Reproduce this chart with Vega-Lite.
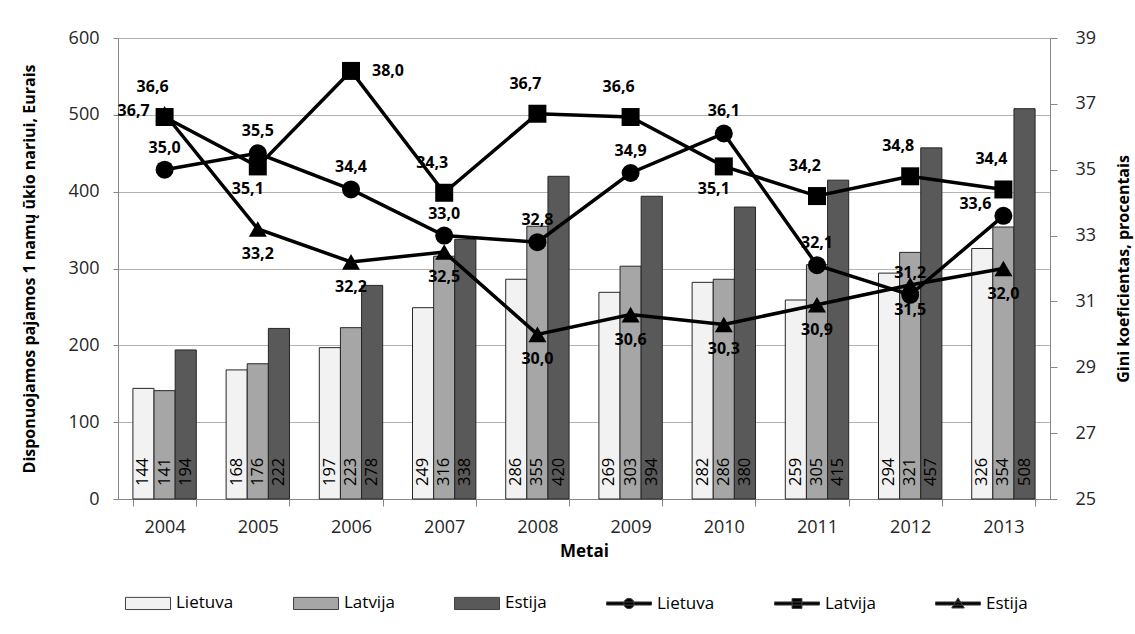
{
  "$schema": "https://vega.github.io/schema/vega-lite/v6.json",
  "width": 932,
  "height": 461,
  "autosize": {"type": "none"},
  "padding": {"left": 118, "top": 38, "right": 85, "bottom": 135},
  "background": "white",
  "config": {
    "font": "Open Sans",
    "view": {"stroke": null},
    "locale": {"number": {"decimal": ",", "thousands": " ", "grouping": [3], "currency": ["", " €"]}},
    "axis": {
      "labelFont": "Open Sans",
      "labelFontSize": 18,
      "labelColor": "#262626",
      "titleFont": "Open Sans",
      "titleFontSize": 16,
      "titleFontWeight": "bold",
      "titleColor": "#000000",
      "domainColor": "#868686",
      "tickColor": "#868686"
    }
  },
  "data": {
    "values": [
      {"Metai": "2004", "Salis": "Lietuva", "pajamos": 144, "gini": 35.0},
      {"Metai": "2004", "Salis": "Latvija", "pajamos": 141, "gini": 36.6},
      {"Metai": "2004", "Salis": "Estija", "pajamos": 194, "gini": 36.7},
      {"Metai": "2005", "Salis": "Lietuva", "pajamos": 168, "gini": 35.5},
      {"Metai": "2005", "Salis": "Latvija", "pajamos": 176, "gini": 35.1},
      {"Metai": "2005", "Salis": "Estija", "pajamos": 222, "gini": 33.2},
      {"Metai": "2006", "Salis": "Lietuva", "pajamos": 197, "gini": 34.4},
      {"Metai": "2006", "Salis": "Latvija", "pajamos": 223, "gini": 38.0},
      {"Metai": "2006", "Salis": "Estija", "pajamos": 278, "gini": 32.2},
      {"Metai": "2007", "Salis": "Lietuva", "pajamos": 249, "gini": 33.0},
      {"Metai": "2007", "Salis": "Latvija", "pajamos": 316, "gini": 34.3},
      {"Metai": "2007", "Salis": "Estija", "pajamos": 338, "gini": 32.5},
      {"Metai": "2008", "Salis": "Lietuva", "pajamos": 286, "gini": 32.8},
      {"Metai": "2008", "Salis": "Latvija", "pajamos": 355, "gini": 36.7},
      {"Metai": "2008", "Salis": "Estija", "pajamos": 420, "gini": 30.0},
      {"Metai": "2009", "Salis": "Lietuva", "pajamos": 269, "gini": 34.9},
      {"Metai": "2009", "Salis": "Latvija", "pajamos": 303, "gini": 36.6},
      {"Metai": "2009", "Salis": "Estija", "pajamos": 394, "gini": 30.6},
      {"Metai": "2010", "Salis": "Lietuva", "pajamos": 282, "gini": 36.1},
      {"Metai": "2010", "Salis": "Latvija", "pajamos": 286, "gini": 35.1},
      {"Metai": "2010", "Salis": "Estija", "pajamos": 380, "gini": 30.3},
      {"Metai": "2011", "Salis": "Lietuva", "pajamos": 259, "gini": 32.1},
      {"Metai": "2011", "Salis": "Latvija", "pajamos": 305, "gini": 34.2},
      {"Metai": "2011", "Salis": "Estija", "pajamos": 415, "gini": 30.9},
      {"Metai": "2012", "Salis": "Lietuva", "pajamos": 294, "gini": 31.2},
      {"Metai": "2012", "Salis": "Latvija", "pajamos": 321, "gini": 34.8},
      {"Metai": "2012", "Salis": "Estija", "pajamos": 457, "gini": 31.5},
      {"Metai": "2013", "Salis": "Lietuva", "pajamos": 326, "gini": 33.6},
      {"Metai": "2013", "Salis": "Latvija", "pajamos": 354, "gini": 34.4},
      {"Metai": "2013", "Salis": "Estija", "pajamos": 508, "gini": 32.0}
    ]
  },
  "layer": [
    {
      "encoding": {
        "x": {
          "field": "Metai",
          "type": "ordinal",
          "title": "Metai",
          "scale": {"paddingInner": 0.32, "paddingOuter": 0.16},
          "axis": {"labelAngle": 0, "tickBand": "extent", "tickSize": 7, "labelPadding": 12, "titlePadding": 7, "titleFontSize": 17}
        },
        "xOffset": {
          "field": "Salis",
          "type": "nominal",
          "sort": ["Lietuva", "Latvija", "Estija"],
          "scale": {"paddingInner": 0, "paddingOuter": 0}
        }
      },
      "layer": [
        {
          "mark": {"type": "bar", "stroke": "#262626", "strokeWidth": 1},
          "encoding": {
            "y": {
              "field": "pajamos",
              "type": "quantitative",
              "scale": {"domain": [0, 600], "nice": false},
              "axis": {
                "values": [0, 100, 200, 300, 400, 500, 600],
                "title": "Disponuojamos pajamos 1 namų ūkio nariui, Eurais",
                "grid": true,
                "gridColor": "#b3b3b3",
                "tickSize": 5,
                "labelPadding": 14,
                "titlePadding": 31
              }
            },
            "fill": {
              "field": "Salis",
              "type": "nominal",
              "scale": {"domain": ["Lietuva", "Latvija", "Estija"], "range": ["#f2f2f2", "#a6a6a6", "#595959"]},
              "legend": null
            }
          }
        },
        {
          "mark": {"type": "text", "angle": 270, "align": "left", "baseline": "middle", "dx": 13, "fontSize": 16.5, "color": "#000000"},
          "encoding": {
            "y": {"datum": 0, "type": "quantitative"},
            "text": {"field": "pajamos", "type": "quantitative"}
          }
        }
      ]
    },
    {
      "encoding": {
        "x": {"field": "Metai", "type": "ordinal"},
        "y": {
          "field": "gini",
          "type": "quantitative",
          "scale": {"domain": [25, 39], "nice": false},
          "axis": {
            "orient": "right",
            "values": [25, 27, 29, 31, 33, 35, 37, 39],
            "title": "Gini koeficientas, procentais",
            "titleAngle": 270,
            "grid": false,
            "tickSize": 7,
            "labelPadding": 18,
            "titlePadding": 36
          }
        }
      },
      "layer": [
        {
          "mark": {"type": "line", "color": "#000000", "strokeWidth": 3.5},
          "encoding": {"detail": {"field": "Salis", "type": "nominal"}}
        },
        {
          "mark": {"type": "point", "filled": true, "color": "#000000", "opacity": 1, "size": 324},
          "encoding": {
            "shape": {
              "field": "Salis",
              "type": "nominal",
              "scale": {"domain": ["Lietuva", "Latvija", "Estija"], "range": ["circle", "square", "triangle-up"]},
              "legend": null
            }
          }
        },
        {
          "transform": [{"filter": "datum.Salis == 'Lietuva' && datum.Metai != '2013'"}],
          "mark": {"type": "text", "fontWeight": "bold", "fontSize": 16, "dy": -22, "color": "#000000"},
          "encoding": {"text": {"field": "gini", "type": "quantitative", "format": ".1f"}}
        },
        {
          "transform": [{"filter": "datum.Salis == 'Lietuva' && datum.Metai == '2013'"}],
          "mark": {"type": "text", "fontWeight": "bold", "fontSize": 16, "dx": -28, "dy": -12, "color": "#000000"},
          "encoding": {"text": {"field": "gini", "type": "quantitative", "format": ".1f"}}
        },
        {
          "transform": [{"filter": "datum.Salis == 'Latvija' && datum.Metai != '2005' && datum.Metai != '2006' && datum.Metai != '2010'"}],
          "mark": {"type": "text", "fontWeight": "bold", "fontSize": 16, "dx": -12, "dy": -30, "color": "#000000"},
          "encoding": {"text": {"field": "gini", "type": "quantitative", "format": ".1f"}}
        },
        {
          "transform": [{"filter": "datum.Salis == 'Latvija' && (datum.Metai == '2005' || datum.Metai == '2010')"}],
          "mark": {"type": "text", "fontWeight": "bold", "fontSize": 16, "dx": -10, "dy": 23, "color": "#000000"},
          "encoding": {"text": {"field": "gini", "type": "quantitative", "format": ".1f"}}
        },
        {
          "transform": [{"filter": "datum.Salis == 'Latvija' && datum.Metai == '2006'"}],
          "mark": {"type": "text", "fontWeight": "bold", "fontSize": 16, "dx": 37, "dy": 0, "color": "#000000"},
          "encoding": {"text": {"field": "gini", "type": "quantitative", "format": ".1f"}}
        },
        {
          "transform": [{"filter": "datum.Salis == 'Estija' && datum.Metai != '2004'"}],
          "mark": {"type": "text", "fontWeight": "bold", "fontSize": 16, "dy": 25, "color": "#000000"},
          "encoding": {"text": {"field": "gini", "type": "quantitative", "format": ".1f"}}
        },
        {
          "transform": [{"filter": "datum.Salis == 'Estija' && datum.Metai == '2004'"}],
          "mark": {"type": "text", "fontWeight": "bold", "fontSize": 16, "dx": -31, "dy": -3, "color": "#000000"},
          "encoding": {"text": {"field": "gini", "type": "quantitative", "format": ".1f"}}
        }
      ]
    },
    {
      "transform": [{"filter": "false"}],
      "mark": {"type": "point", "filled": true, "opacity": 1},
      "encoding": {
        "shape": {
          "field": "leg",
          "type": "nominal",
          "scale": {
            "domain": ["Lietuva", "Latvija", "Estija", "Lietuva_", "Latvija_", "Estija_"],
            "range": [
              "M-1,-0.27H1V0.27H-1Z",
              "M-1,-0.27H1V0.27H-1Z",
              "M-1,-0.27H1V0.27H-1Z",
              "M-1,-0.07H1V0.07H-1Z M0,-0.23A0.23,0.23 0 1,1 0,0.23A0.23,0.23 0 1,1 0,-0.23Z",
              "M-1,-0.07H1V0.07H-1Z M-0.22,-0.22H0.22V0.22H-0.22Z",
              "M-1,-0.07H1V0.07H-1Z M0,-0.25L0.28,0.2H-0.28Z"
            ]
          },
          "legend": {
            "title": null,
            "orient": "none",
            "legendX": 7,
            "legendY": 542,
            "direction": "horizontal",
            "columns": 6,
            "columnPadding": 57,
            "symbolSize": 2025,
            "symbolOpacity": 1,
            "labelFont": "Open Sans",
            "labelFontSize": 17,
            "labelColor": "#000000",
            "labelOffset": 5,
            "labelExpr": "replace(datum.label, '_', '')",
            "encode": {"symbols": {"update": {"stroke": {"value": "#404040"}, "strokeWidth": {"value": 1}}}}
          }
        },
        "color": {
          "field": "leg",
          "type": "nominal",
          "scale": {
            "domain": ["Lietuva", "Latvija", "Estija", "Lietuva_", "Latvija_", "Estija_"],
            "range": ["#f2f2f2", "#a6a6a6", "#595959", "#000000", "#000000", "#000000"]
          },
          "legend": {
            "title": null,
            "orient": "none",
            "legendX": 7,
            "legendY": 542,
            "direction": "horizontal",
            "columns": 6,
            "columnPadding": 57,
            "symbolSize": 2025,
            "symbolOpacity": 1,
            "labelFont": "Open Sans",
            "labelFontSize": 17,
            "labelColor": "#000000",
            "labelOffset": 5,
            "labelExpr": "replace(datum.label, '_', '')",
            "encode": {"symbols": {"update": {"stroke": {"value": "#404040"}, "strokeWidth": {"value": 1}}}}
          }
        }
      }
    }
  ],
  "resolve": {"scale": {"y": "independent", "color": "independent", "shape": "independent"}}
}
